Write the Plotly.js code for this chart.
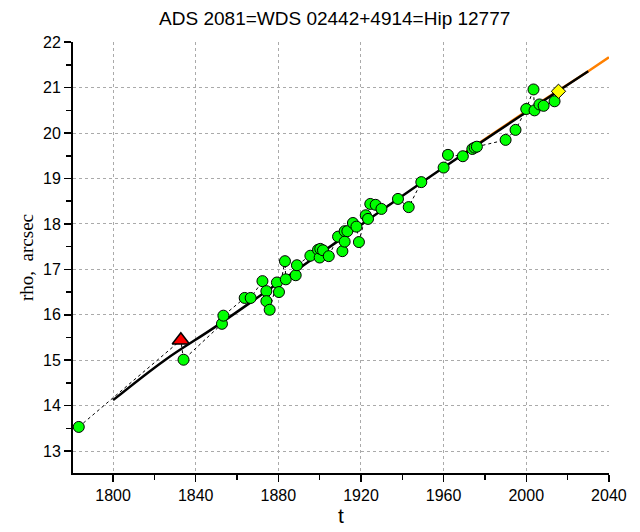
<!DOCTYPE html>
<html>
<head>
<meta charset="utf-8">
<script src="https://cdn.plot.ly/plotly-3.0.1.min.js"></script>
<style>html,body{margin:0;padding:0;background:#fff;}#chart{width:640px;height:532px;}</style>
</head>
<body>
<div id="chart"></div>
<script>
// Observations (green circles)
const obsT   = [1783.4, 1834.1, 1852.7, 1853.4, 1863.7, 1866.6, 1872.3, 1874.2, 1874.2, 1875.8, 1879.3, 1880.3, 1883.2, 1883.6, 1888.4, 1889.0, 1895.5, 1899.2, 1900.0, 1900.3, 1901.6, 1904.4, 1908.9, 1911.0, 1912.1, 1912.1, 1913.4, 1916.1, 1917.8, 1919.0, 1922.3, 1923.4, 1924.5, 1927.1, 1929.9, 1937.9, 1943.1, 1949.2, 1960.0, 1962.1, 1969.3, 1973.9, 1975.0, 1976.1, 1990.0, 1994.8, 2000.0, 2003.5, 2004.0, 2006.4, 2008.4, 2013.7];
const obsRho = [13.53, 15.01, 15.80, 15.98, 16.37, 16.37, 16.74, 16.52, 16.30, 16.11, 16.71, 16.50, 17.18, 16.78, 16.87, 17.09, 17.30, 17.43, 17.26, 17.45, 17.42, 17.29, 17.72, 17.40, 17.84, 17.61, 17.84, 18.02, 17.94, 17.60, 18.19, 18.11, 18.44, 18.42, 18.33, 18.55, 18.37, 18.92, 19.24, 19.52, 19.49, 19.65, 19.68, 19.70, 19.85, 20.07, 20.53, 20.96, 20.50, 20.63, 20.60, 20.70];
// Special points
const triT = [1832.8], triRho = [15.44];
const diaT = [2015.6], diaRho = [20.92];
// Fitted curves
const fitT   = [1800, 1825, 1850, 1890, 1958, 2030];
const fitRho = [14.12, 15.00, 15.75, 17.02, 19.18, 21.36];
const orT    = [1970, 2000, 2030, 2040];
const orRho  = [19.56, 20.48, 21.36, 21.67];
// Axis ticks
const xTicks = [1800, 1840, 1880, 1920, 1960, 2000, 2040];
const yTicks = [13, 14, 15, 16, 17, 18, 19, 20, 21, 22];

// chronological polyline through all observations
const all = obsT.map((t, i) => [t, obsRho[i]]).concat([[triT[0], triRho[0]], [diaT[0], diaRho[0]]]);
all.sort((a, b) => a[0] - b[0]);

const traces = [
  {x: all.map(p => p[0]), y: all.map(p => p[1]), mode: 'lines', type: 'scatter',
   line: {color: '#000', width: 1, dash: '3px,3px'}, hoverinfo: 'skip'},
  {x: orT, y: orRho, mode: 'lines', type: 'scatter', line: {color: '#ff8000', width: 2.5}},
  {x: fitT, y: fitRho, mode: 'lines', type: 'scatter', line: {color: '#000', width: 2.5, shape: 'spline'}},
  {x: obsT, y: obsRho, mode: 'markers', type: 'scatter',
   marker: {symbol: 'circle', size: 11, color: '#00ff00', line: {color: '#000', width: 1}}},
  {x: triT, y: triRho, mode: 'markers', type: 'scatter',
   marker: {symbol: 'triangle-up', size: 15, color: '#ff0000', line: {color: '#000', width: 1.5}}},
  {x: diaT, y: diaRho, mode: 'markers', type: 'scatter',
   marker: {symbol: 'diamond', size: 11, color: '#ffff00', line: {color: '#000', width: 1}}}
];

const layout = {
  width: 640, height: 532,
  margin: {l: 73, r: 31, t: 42, b: 59},
  paper_bgcolor: '#fff', plot_bgcolor: '#fff',
  showlegend: false,
  font: {family: 'Liberation Sans, Arial, sans-serif', color: '#000'},
  title: {text: 'ADS 2081=WDS 02442+4914=Hip 12777', font: {size: 19, family: 'Liberation Sans, Arial, sans-serif'},
          x: 0.523, xref: 'container', xanchor: 'center', y: 0.966, yref: 'container', yanchor: 'middle'},
  xaxis: {
    range: [1780.6, 2040.05], tickmode: 'array', tickvals: xTicks, ticktext: xTicks.map(String),
    ticks: 'outside', ticklen: 7, tickwidth: 1.5, tickcolor: '#000',
    showline: true, linecolor: '#000', linewidth: 2, zeroline: false,
    showgrid: true, gridcolor: '#aaa', griddash: 'dot', gridwidth: 1,
    tickfont: {size: 16},
    minor: {dtick: 20, tick0: 1780, ticks: 'outside', ticklen: 5, tickwidth: 1.5, tickcolor: '#000', showgrid: false},
    title: {text: 't', font: {size: 21}, standoff: 5}
  },
  yaxis: {
    range: [12.516, 22.005], tickmode: 'array', tickvals: yTicks, ticktext: yTicks.map(String),
    ticks: 'outside', ticklen: 7, tickwidth: 1.5, tickcolor: '#000',
    showline: true, linecolor: '#000', linewidth: 2, zeroline: false,
    showgrid: true, gridcolor: '#aaa', griddash: 'dot', gridwidth: 1,
    tickfont: {size: 16},
    minor: {dtick: 0.5, tick0: 12.5, ticks: 'outside', ticklen: 5, tickwidth: 1.5, tickcolor: '#000', showgrid: false},
    title: {text: 'rho,  arcsec', font: {size: 19, family: 'Liberation Serif, Times New Roman, serif'}, standoff: 4}
  }
};

Plotly.newPlot('chart', traces, layout, {displayModeBar: false, staticPlot: true});
</script>
</body>
</html>
